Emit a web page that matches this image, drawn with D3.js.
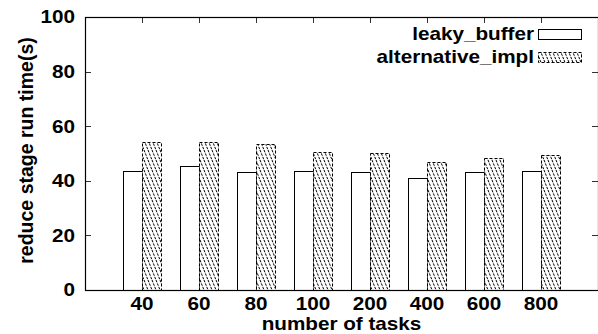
<!DOCTYPE html>
<html><head><meta charset="utf-8">
<script src="https://cdn.jsdelivr.net/npm/d3@7"></script>
<style>body{margin:0;background:#fff}svg{display:block}text{font-family:"Liberation Sans",Arial,sans-serif;font-weight:bold}</style>
</head><body><svg id="c" width="598" height="334"></svg>
<script>
const categories = ["40","60","80","100","200","400","600","800"];
const leakyBuffer = [43.6, 45.5, 43.3, 43.6, 43.3, 41.1, 43.2, 43.7];
const alternativeImpl = [54.1, 54.3, 53.4, 50.4, 50.1, 47.0, 48.2, 49.3];
const yTicks = [0, 20, 40, 60, 80, 100];
const seriesNames = ["leaky_buffer", "alternative_impl"];

const svg = d3.select("#c");
const L = 85, R = 598, T = 17, B = 290;
const x = d3.scaleLinear().domain([-1, categories.length]).range([L, R]);
const y = d3.scaleLinear().domain([0, 100]).range([B, T]);
const bw = x(1) - x(0.667);
const FS = 18, SX = 1.15;

function txt(px, py, str, anchor, dy) {
  return svg.append("text").attr("transform", `translate(${px},${py}) scale(${SX},1)`)
    .attr("text-anchor", anchor).attr("dy", dy || null).attr("font-size", FS + "px").text(str);
}

const defs = svg.append("defs");
const pat = defs.append("pattern").attr("id","hatch").attr("patternUnits","userSpaceOnUse")
  .attr("width",4).attr("height",10);
pat.append("rect").attr("width",4).attr("height",10).attr("fill","#fff");
[-4,0,4].forEach(o => {
  pat.append("line").attr("x1",o).attr("y1",0).attr("x2",o+4).attr("y2",10)
    .attr("stroke","#000").attr("stroke-width",1).attr("stroke-dasharray","2.5,1.2");
});

// y ticks (left & right, inward)
yTicks.forEach(t => {
  const yy = Math.round(y(t)) + 0.5;
  if (t > 0 && t < 100) {
    svg.append("line").attr("x1",L).attr("x2",L+6).attr("y1",yy).attr("y2",yy).attr("stroke","#333");
    svg.append("line").attr("x1",R-6).attr("x2",R).attr("y1",yy).attr("y2",yy).attr("stroke","#333");
  }
  txt(75, y(t), t, "end", "0.36em");
});

// x ticks top & bottom
categories.forEach((c,i) => {
  const xx = Math.round(x(i)) + 0.5;
  svg.append("line").attr("x1",xx).attr("x2",xx).attr("y1",T).attr("y2",T+6).attr("stroke","#333");
  svg.append("line").attr("x1",xx).attr("x2",xx).attr("y1",B-6).attr("y2",B).attr("stroke","#333");
  txt(x(i), 309.5, c, "middle");
});

// bars
svg.append("g").selectAll("rect").data(leakyBuffer).join("rect")
  .attr("x",(d,i)=>Math.round(x(i)-bw)+0.5).attr("width",Math.round(bw))
  .attr("y",d=>Math.round(y(d))+0.5).attr("height",d=>B-Math.round(y(d)))
  .attr("fill","#fff").attr("stroke","#000").attr("stroke-width",1);
svg.append("g").selectAll("rect").data(alternativeImpl).join("rect")
  .attr("x",(d,i)=>Math.round(x(i))+0.5).attr("width",Math.round(bw))
  .attr("y",d=>Math.round(y(d))+0.5).attr("height",d=>B-Math.round(y(d)))
  .attr("fill","url(#hatch)").attr("stroke","#000").attr("stroke-width",1).attr("stroke-dasharray","3,2");

// frame
svg.append("rect").attr("x",L+0.5).attr("y",T+0.5).attr("width",R-L).attr("height",B-T)
  .attr("fill","none").attr("stroke","#000").attr("stroke-width",1.2);

// legend
const lg = [{name:seriesNames[0], fill:"#fff", dash:null, y:35},
            {name:seriesNames[1], fill:"url(#hatch)", dash:"3,2", y:58}];
lg.forEach(d => {
  txt(534, d.y+4.5, d.name, "end");
  svg.append("rect").attr("x",538.5).attr("y",d.y-5.5).attr("width",43).attr("height",10)
    .attr("fill",d.fill).attr("stroke","#000").attr("stroke-dasharray",d.dash);
});

// axis titles
txt((L+R)/2, 330, "number of tasks", "middle");
svg.append("text").attr("transform",`translate(33,${(T+B)/2 - 3}) rotate(-90)`).attr("text-anchor","middle")
  .attr("font-size","19.5px").text("reduce stage run time(s)");
</script></body></html>
